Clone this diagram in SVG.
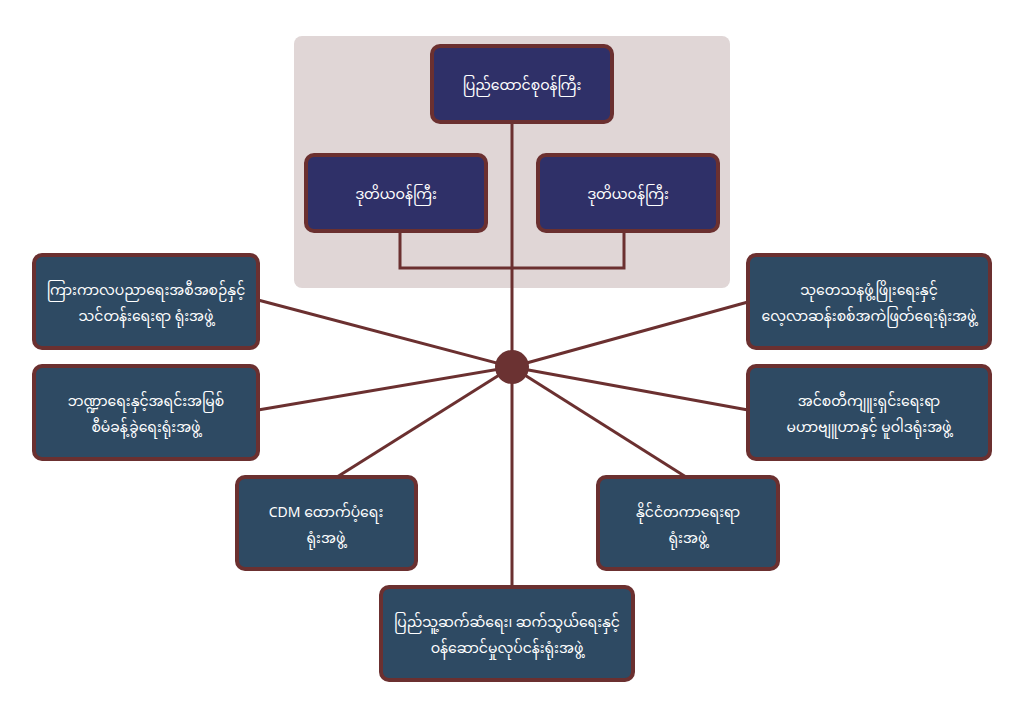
<svg xmlns="http://www.w3.org/2000/svg" width="1024" height="718" viewBox="0 0 1024 718">
<style>
.n{stroke:#6b3030;stroke-width:4}
.a{fill:#2f3068}
.b{fill:#2e4a63}
.c{stroke:#6b3030;stroke-width:3;fill:none}
text{fill:#fff;font-family:"Noto Sans","Noto Sans Myanmar",sans-serif;font-size:14px;text-anchor:middle}
</style>
<rect width="1024" height="718" fill="#fff"/>
<rect x="294" y="36" width="436" height="252" rx="8" fill="#e0d6d6"/>
<g id="connectors">
<line class="c" x1="512" y1="122" x2="512" y2="587"/>
<polyline class="c" points="400,231 400,268 624,268 624,231"/>
<line class="c" x1="512" y1="367" x2="258" y2="300"/>
<line class="c" x1="512" y1="367" x2="258" y2="410"/>
<line class="c" x1="512" y1="367" x2="748" y2="302"/>
<line class="c" x1="512" y1="367" x2="748" y2="410"/>
<line class="c" x1="512" y1="367" x2="337" y2="477"/>
<line class="c" x1="512" y1="367" x2="686" y2="477"/>
<circle cx="512" cy="367" r="17" fill="#6b3232"/>
</g>
<g id="top"><rect class="n a" x="432" y="46" width="180" height="76" rx="8"/><text x="522" y="90">ပြည်ထောင်စုဝန်ကြီး</text></g>
<g id="dep1"><rect class="n a" x="306" y="155" width="180" height="76" rx="8"/><text x="396" y="199">ဒုတိယဝန်ကြီး</text></g>
<g id="dep2"><rect class="n a" x="538" y="155" width="180" height="76" rx="8"/><text x="628" y="199">ဒုတိယဝန်ကြီး</text></g>
<g id="l1"><rect class="n b" x="34" y="255" width="224" height="93" rx="8"/><text x="146" y="295">ကြားကာလပညာရေးအစီအစဉ်နှင့်</text><text x="146" y="321">သင်တန်းရေးရာ ရုံးအဖွဲ့</text></g>
<g id="l2"><rect class="n b" x="34" y="366" width="224" height="93" rx="8"/><text x="146" y="406">ဘဏ္ဍာရေးနှင့်အရင်းအမြစ်</text><text x="146" y="432">စီမံခန့်ခွဲရေးရုံးအဖွဲ့</text></g>
<g id="r1"><rect class="n b" x="748" y="255" width="242" height="93" rx="8"/><text x="869" y="295">သုတေသနဖွံ့ဖြိုးရေးနှင့်</text><text x="869" y="321">လေ့လာဆန်းစစ်အကဲဖြတ်ရေးရုံးအဖွဲ့</text></g>
<g id="r2"><rect class="n b" x="748" y="366" width="242" height="93" rx="8"/><text x="869" y="406">အင်စတီကျူးရှင်းရေးရာ</text><text x="869" y="432">မဟာဗျူဟာနှင့် မူဝါဒရုံးအဖွဲ့</text></g>
<g id="bl"><rect class="n b" x="237" y="477" width="179" height="92" rx="8"/><text x="326" y="517">CDM ထောက်ပံ့ရေး</text><text x="326" y="543">ရုံးအဖွဲ့</text></g>
<g id="br"><rect class="n b" x="598" y="477" width="180" height="92" rx="8"/><text x="688" y="517">နိုင်ငံတကာရေးရာ</text><text x="688" y="543">ရုံးအဖွဲ့</text></g>
<g id="bot"><rect class="n b" x="381" y="587" width="252" height="93" rx="8"/><text x="507" y="627">ပြည်သူ့ဆက်ဆံရေး၊ ဆက်သွယ်ရေးနှင့်</text><text x="507" y="653">ဝန်ဆောင်မှုလုပ်ငန်းရုံးအဖွဲ့</text></g>
</svg>
